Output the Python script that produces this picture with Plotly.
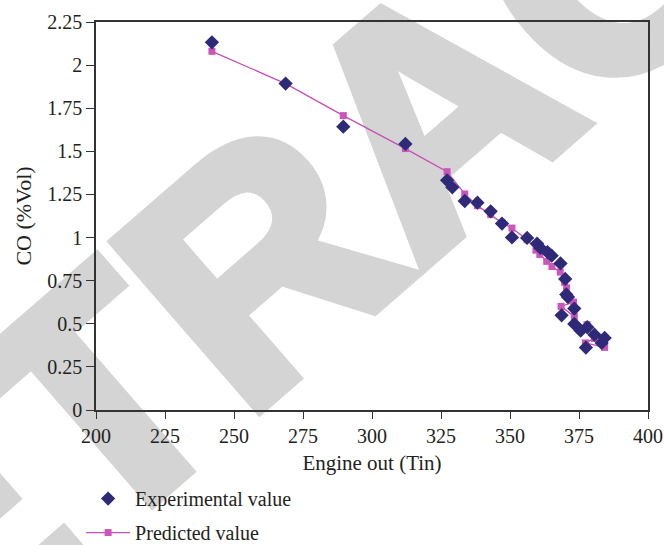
import base64
import plotly.graph_objects as go

# ---- data ----
x_exp = [242.0, 268.7, 289.6, 312.1, 327.2, 329.1, 333.6, 338.2, 343.0, 347.1,
         350.7, 356.2, 359.8, 361.0, 363.6, 365.1, 368.3, 370.0, 370.4, 371.0,
         373.3, 368.7, 373.3, 375.6, 378.0, 380.6, 384.3, 383.2, 377.5]
y_exp = [2.132, 1.893, 1.643, 1.543, 1.332, 1.291, 1.212, 1.202, 1.152, 1.081,
         1.001, 0.998, 0.965, 0.940, 0.915, 0.895, 0.850, 0.760, 0.670, 0.655,
         0.588, 0.549, 0.499, 0.460, 0.480, 0.437, 0.418, 0.389, 0.362]

x_pred = [242.0, 268.7, 289.6, 312.1, 327.2, 333.6, 338.2, 343.0, 347.1, 350.7,
          356.2, 359.4, 360.8, 363.3, 365.2, 368.2, 369.8, 370.5, 373.0, 368.5,
          373.3, 375.6, 377.9, 380.6, 377.3, 384.3]
y_pred = [2.080, 1.893, 1.707, 1.516, 1.382, 1.253, 1.185, 1.133, 1.085, 1.055,
          0.988, 0.927, 0.902, 0.862, 0.832, 0.800, 0.740, 0.708, 0.626, 0.601,
          0.543, 0.476, 0.495, 0.415, 0.389, 0.363]

x_ticks = [200, 225, 250, 275, 300, 325, 350, 375, 400]
y_ticks = [0, 0.25, 0.5, 0.75, 1, 1.25, 1.5, 1.75, 2, 2.25]
y_tick_labels = ["0", "0.25", "0.5", "0.75", "1", "1.25", "1.5", "1.75", "2", "2.25"]

W, H = 664, 545
ML, MR, MT, MB = 96, 16, 22, 135
PW, PH = W - ML - MR, H - MT - MB

FONT = "Liberation Serif"
TXT = "#231f20"

fig = go.Figure()
fig.add_trace(go.Scatter(
    x=x_pred, y=y_pred, mode="lines+markers", name="Predicted value",
    line=dict(color="#c64fb6", width=1.3),
    marker=dict(symbol="square", size=7, color="#cc55bb"),
    legendrank=2, legendgroup="p",
))
fig.add_trace(go.Scatter(
    x=x_exp, y=y_exp, mode="markers", name="Experimental value",
    marker=dict(symbol="diamond", size=11, color="#2e2a78"),
    legendrank=1, legendgroup="e",
))

# watermark as background image (below data)
svg = (
    f'<svg xmlns="http://www.w3.org/2000/svg" width="{W}" height="{H}" viewBox="0 0 {W} {H}">'
    '<g transform="translate(430,108) rotate(-41)">'
    '<text x="0" y="115" text-anchor="middle" font-family="Liberation Sans" '
    'font-weight="bold" font-size="320" fill="#d4d4d4" stroke="#d4d4d4" '
    'stroke-width="13" stroke-linejoin="miter">RETRACTED</text></g></svg>'
)
src = "data:image/svg+xml;base64," + base64.b64encode(svg.encode()).decode()

fig.update_layout(
    width=W, height=H,
    margin=dict(l=ML, r=MR, t=MT, b=MB, autoexpand=False),
    paper_bgcolor="white", plot_bgcolor="rgba(0,0,0,0)",
    font=dict(family=FONT, size=20, color=TXT),
    images=[dict(source=src, xref="paper", yref="paper",
                 x=-ML / PW, y=1 + MT / PH, sizex=W / PW, sizey=H / PH,
                 sizing="stretch", xanchor="left", yanchor="top", layer="below")],
    legend=dict(x=-0.027, y=-0.178, xanchor="left", yanchor="top",
                font=dict(family=FONT, size=20, color=TXT), itemwidth=44,
                bgcolor="rgba(0,0,0,0)", tracegroupgap=5),
    showlegend=True,
)
fig.update_xaxes(
    range=[200, 400], tickvals=x_ticks, showgrid=False, zeroline=False,
    showline=True, linecolor="#333333", linewidth=1.6, mirror=True,
    ticks="outside", ticklen=7, tickwidth=1.4, tickcolor="#333333",
    title=dict(text="Engine out (Tin)", standoff=10, font=dict(size=21)),
    tickfont=dict(size=20),
)
fig.update_yaxes(
    range=[0, 2.25], tickvals=y_ticks, ticktext=y_tick_labels,
    showgrid=False, zeroline=False,
    showline=True, linecolor="#333333", linewidth=1.6, mirror=True,
    ticks="outside", ticklen=8, tickwidth=1.4, tickcolor="#333333",
    title=dict(text="CO (%Vol)", standoff=10, font=dict(size=22)),
    tickfont=dict(size=20),
)

fig.write_html("out.html")
